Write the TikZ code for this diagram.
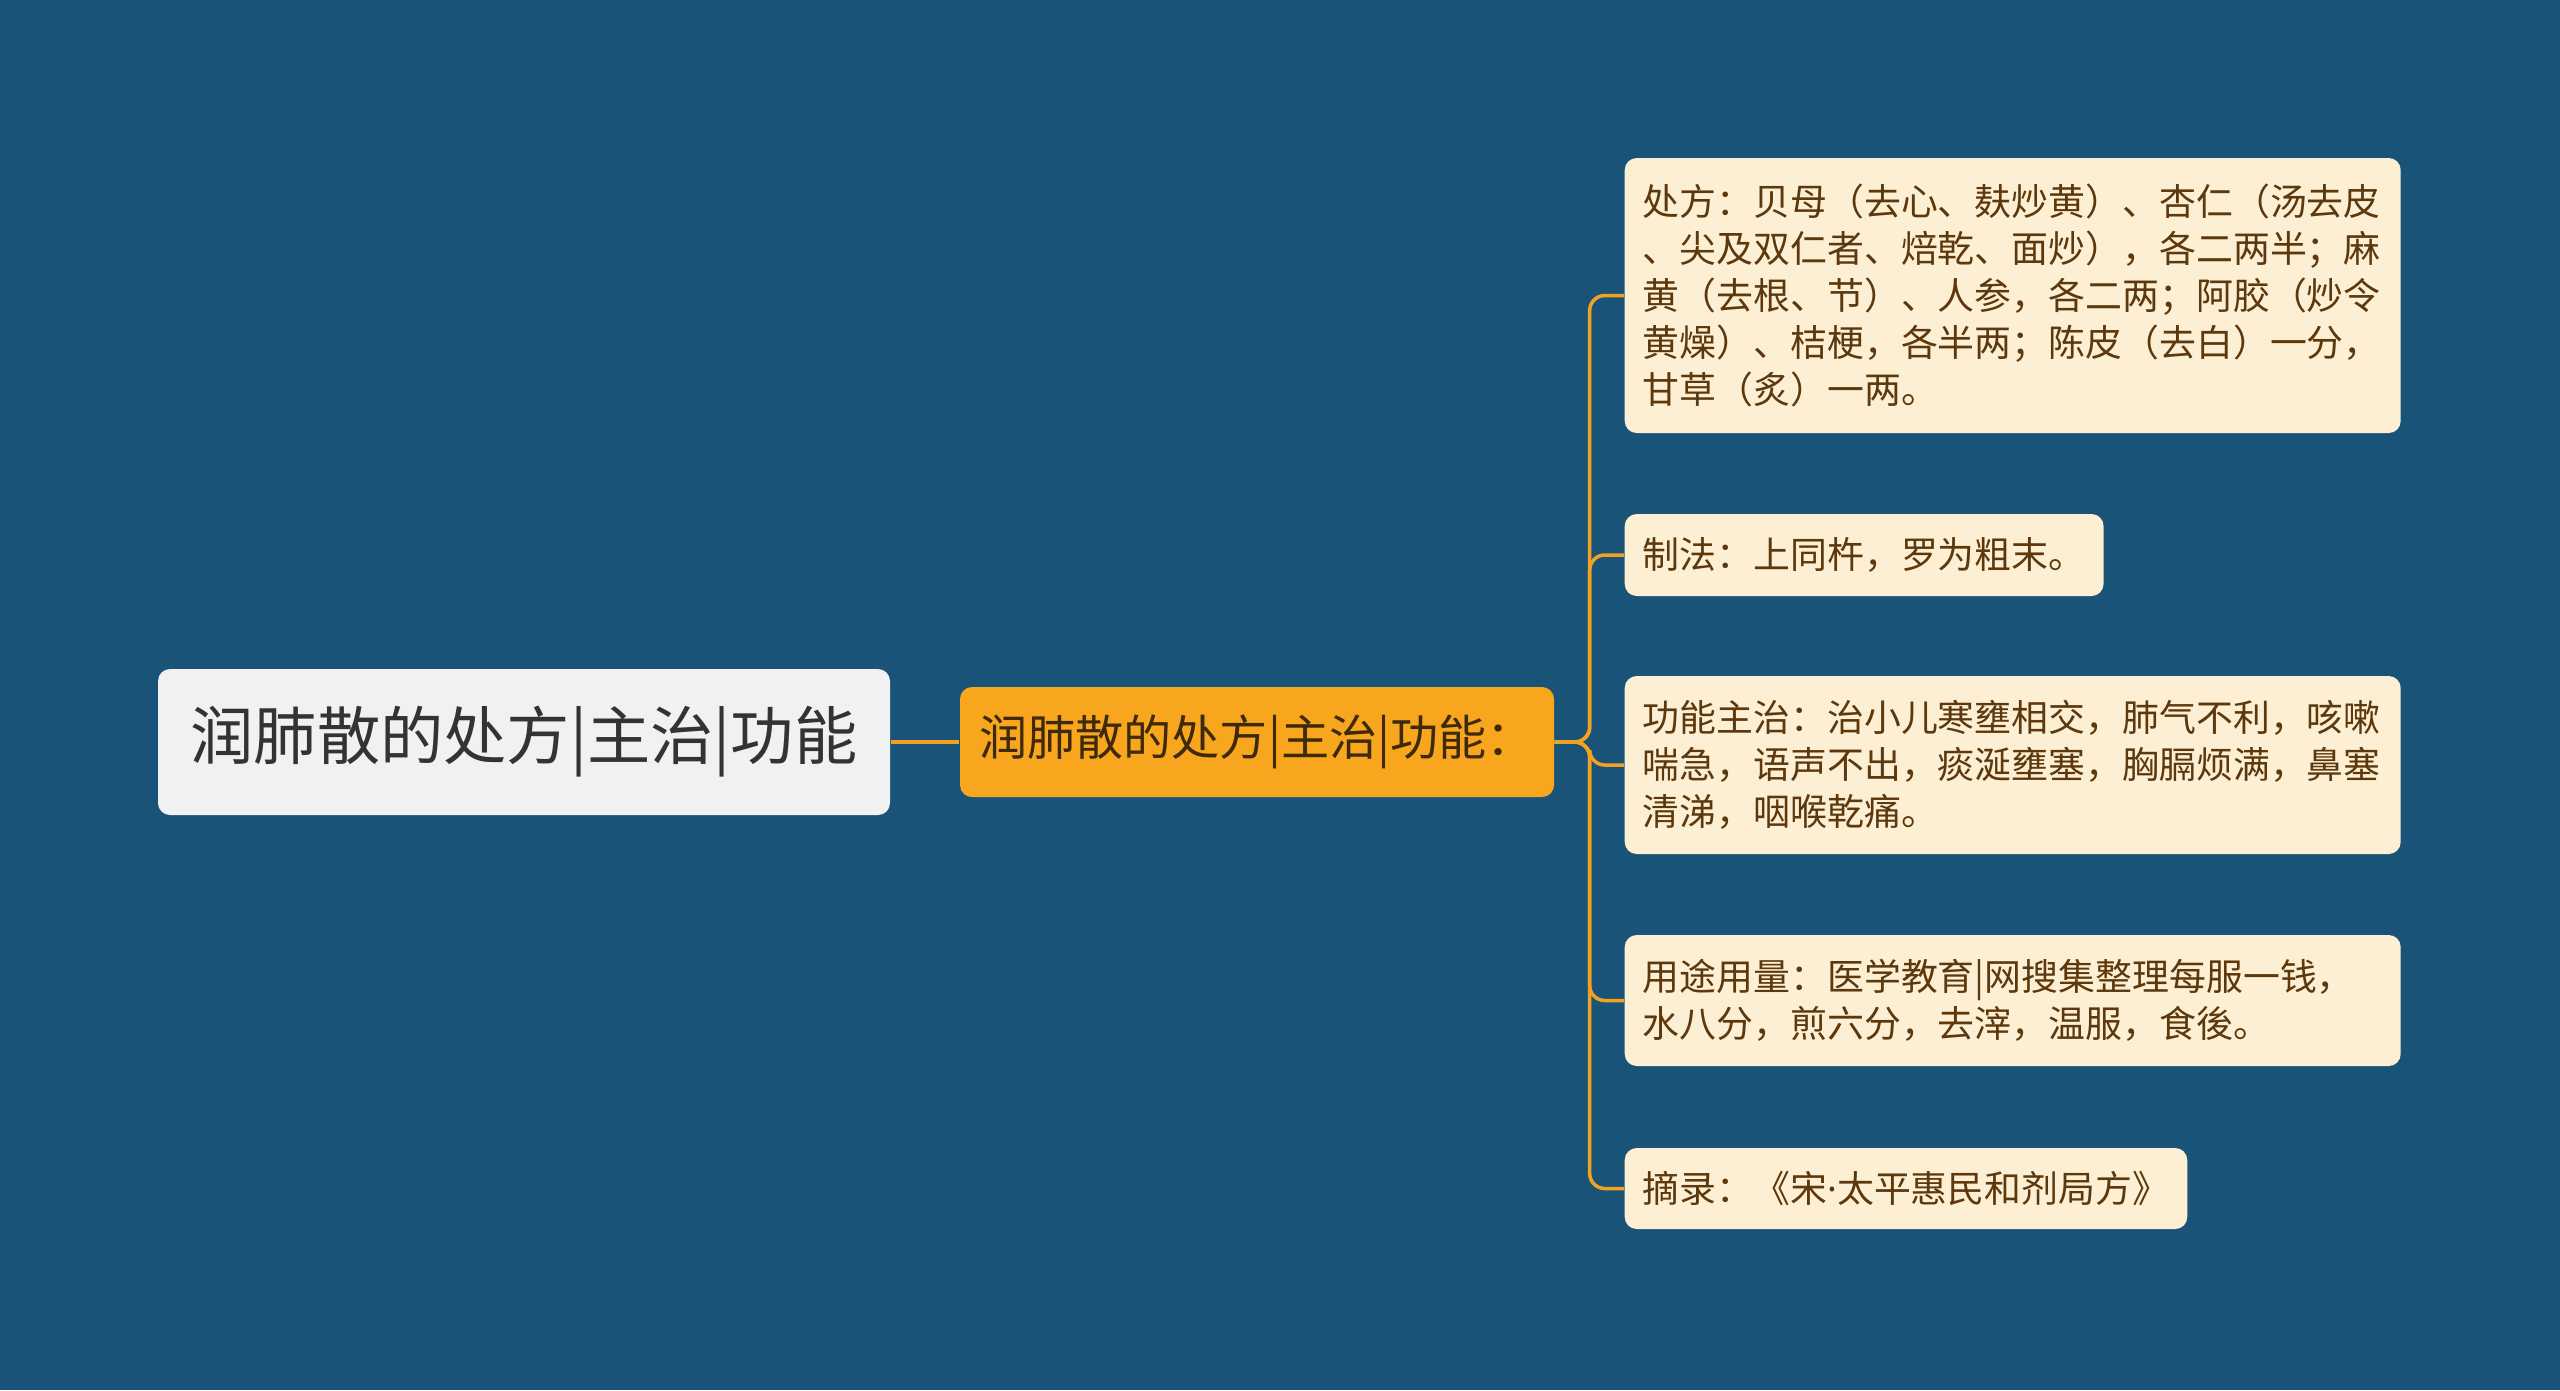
\documentclass[tikz,border=0pt]{standalone}
\usepackage{fontspec}
\usepackage{xcolor}
\usepackage{tikz}
\setmainfont{Noto Sans CJK SC}
\newfontfamily\latinfont{Noto Sans}
\definecolor{deepsea}{RGB}{25, 83, 119}
\definecolor{cream}{RGB}{253, 239, 212}
\definecolor{bark}{RGB}{92, 56, 12}
\definecolor{amber}{RGB}{249, 166, 31}
\definecolor{linkamber}{RGB}{240, 162, 32}
\definecolor{paper}{RGB}{241, 241, 241}

\begin{document}
\begin{tikzpicture}[
    rootbox/.style={fill=paper, rounded corners=0.12cm, text=black!80, font=\fontsize{18}{20}\selectfont,
        minimum width=7.32cm, minimum height=1.46cm, inner sep=0pt},
    midbox/.style={fill=amber, rounded corners=0.12cm, text=black!75!amber, font=\fontsize{13.7}{16}\selectfont,
        minimum width=5.94cm, minimum height=1.10cm, inner sep=0pt},
    leafbox/.style={fill=cream, rounded corners=0.12cm, text=bark, font=\fontsize{10.5}{13.4}\selectfont,
        align=left, anchor=west, inner xsep=0.18cm, inner ysep=0.2cm},
    widebox/.style={leafbox, text width=7.40cm},
    link/.style={linkamber, line width=1pt, rounded corners=0.15cm}
]
    % Canvas
    \useasboundingbox (0,0) rectangle (25.6,-13.9);
    \fill[deepsea] (0,0) rectangle (25.6,-13.9);

    % Root and main branch
    \node[rootbox] (root) at (5.24,-7.42) {润肺散的处方|主治|功能};
    \node[midbox] (mid) at (12.57,-7.42) {润肺散的处方|主治|功能：};

    % Leaves
    \node[widebox, minimum height=2.75cm] (recipe) at (16.24,-2.955)
        {处方：贝母（去心、麸炒黄）、杏仁（汤去皮\\
         、尖及双仁者、焙乾、面炒），各二两半；麻\\
         黄（去根、节）、人参，各二两；阿胶（炒令\\
         黄燥）、桔梗，各半两；陈皮（去白）一分，\\
         甘草（炙）一两。};
    \node[leafbox, minimum height=0.82cm] (method) at (16.24,-5.55) {制法：上同杵，罗为粗末。};
    \node[widebox, minimum height=1.78cm] (effect) at (16.24,-7.65)
        {功能主治：治小儿寒壅相交，肺气不利，咳嗽\\
         喘急，语声不出，痰涎壅塞，胸膈烦满，鼻塞\\
         清涕，咽喉乾痛。};
    \node[widebox, minimum height=1.31cm] (usage) at (16.24,-10.005)
        {用途用量：医学教育|网搜集整理每服一钱，\\
         水八分，煎六分，去滓，温服，食後。};
    \node[leafbox, minimum height=0.81cm] (source) at (16.24,-11.885)
        {摘录：《宋{\latinfont ·}太平惠民和剂局方》};

    % Connectors
    \draw[link] (root.east) -- (mid.west);
    \foreach \leaf in {recipe,method,effect,usage,source} {
        \draw[link] (mid.east) -- ++(0.35,0) |- (\leaf.west);
    }
\end{tikzpicture}
\end{document}
